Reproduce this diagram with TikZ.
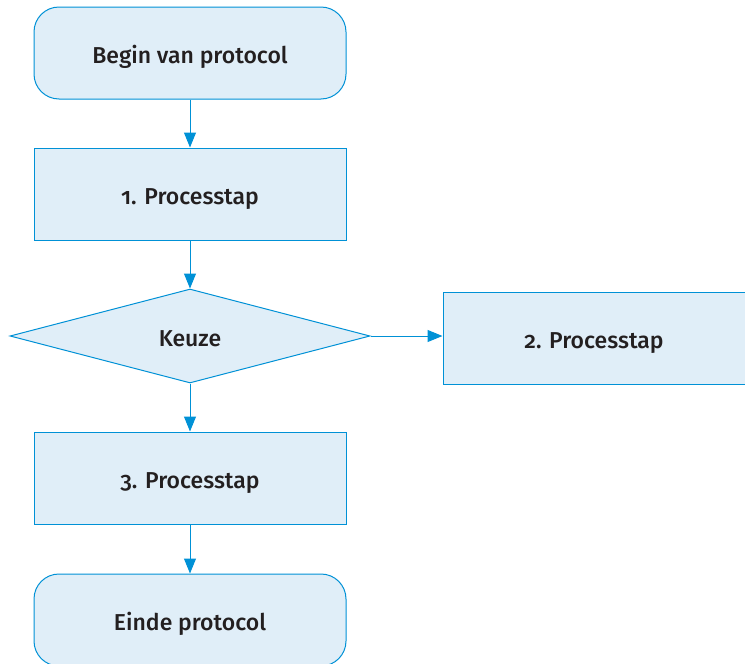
\documentclass[tikz,border=0pt]{standalone}
\usepackage{fontspec}
\setmainfont{Fira Sans}[Numbers=OldStyle, BoldFont={Fira Sans Medium}]
\usepackage{xcolor}
\usetikzlibrary{shapes.geometric, arrows.meta}

\definecolor{lijn}{RGB}{0,145,214}
\definecolor{vlak}{RGB}{224,238,248}
\definecolor{tekst}{RGB}{35,31,32}

\tikzset{
  stap/.style={draw=lijn, fill=vlak, line width=1pt, minimum width=312pt, minimum height=92pt, text height=20pt, text depth=0pt, text=tekst, font=\fontsize{23}{27}\selectfont\bfseries},
  rond/.style={stap, rounded corners=25pt},
  keus/.style={stap, diamond, aspect=3.83, minimum width=360pt, minimum height=94pt, inner sep=0pt},
  pijl/.style={draw=lijn, line width=1pt, -{Triangle[length=15pt, width=12pt]}}
}

\begin{document}
\begin{tikzpicture}[x=1pt, y=-1pt]
\useasboundingbox (0,0) rectangle (745,664);

\node[rond] (begin) at (190,53) {Begin van protocol};
\node[stap] (stap1) at (190,194) {1. Processtap};
\node[keus] (keuze) at (190,336) {Keuze};
\node[stap, minimum width=302pt] (stap2) at (594,338) {2. Processtap};
\node[stap] (stap3) at (190,478) {3. Processtap};
\node[rond] (einde) at (190,620) {Einde protocol};

\draw[pijl] (begin) -- (stap1);
\draw[pijl] (stap1) -- (keuze);
\draw[pijl] (keuze.east) -- (keuze.east -| stap2.west);
\draw[pijl] (keuze) -- (stap3);
\draw[pijl] (stap3) -- (einde);
\end{tikzpicture}
\end{document}
